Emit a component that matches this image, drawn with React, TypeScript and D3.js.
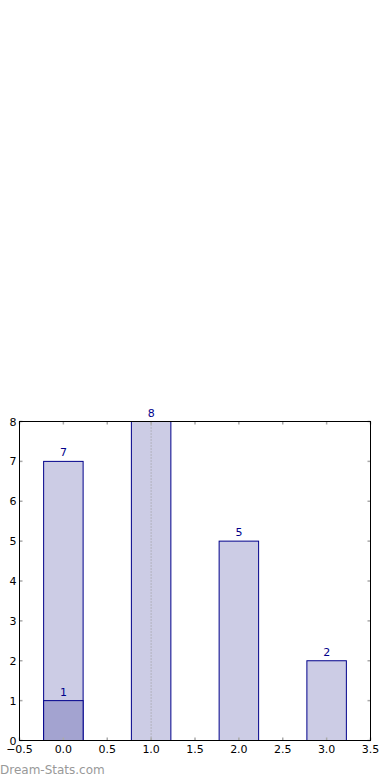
import React from "react";
import * as d3 from "d3";

const categories = [0, 1, 2, 3];
const totals = [7, 8, 5, 2];
const highlight = [1, 0, 0, 0];
const xTicks = [-0.5, 0, 0.5, 1, 1.5, 2, 2.5, 3, 3.5];
const yTicks = [0, 1, 2, 3, 4, 5, 6, 7, 8];
const markerX = 1;

const W = 390, H = 780;
const M = { left: 19.5, right: 370.5, top: 421.5, bottom: 740.5 };
const BAR_W = 0.45;
const NAVY = "#00008b";
const FONT = "DejaVu Sans, sans-serif";

export default function App() {
  const x = d3.scaleLinear().domain([-0.5, 3.5]).range([M.left, M.right]);
  const y = d3.scaleLinear().domain([0, 8]).range([M.bottom, M.top]);
  const fmt = (v: number) => (v < 0 ? "\u2212" + Math.abs(v).toFixed(1) : v.toFixed(1));
  return (
    <svg width={W} height={H} style={{ position: "absolute", left: 0, top: 0 }} fontFamily={FONT}>
      <rect x={0} y={0} width={W} height={H} fill="#fff" />
      {categories.map((c, i) => (
        <g key={c}>
          <rect x={x(c - BAR_W / 2)} y={y(totals[i])} width={x(c + BAR_W / 2) - x(c - BAR_W / 2)}
            height={y(0) - y(totals[i])} fill="#ccccE5" stroke={NAVY} strokeWidth={1} />
          {highlight[i] > 0 && (
            <rect x={x(c - BAR_W / 2)} y={y(highlight[i])} width={x(c + BAR_W / 2) - x(c - BAR_W / 2)}
              height={y(0) - y(highlight[i])} fill="#a3a3d0" stroke={NAVY} strokeWidth={1} />
          )}
          <text x={x(c)} y={y(totals[i]) - 5} textAnchor="middle" fontSize={11} fill={NAVY}>{totals[i]}</text>
          {highlight[i] > 0 && (
            <text x={x(c)} y={y(highlight[i]) - 5} textAnchor="middle" fontSize={11} fill={NAVY}>{highlight[i]}</text>
          )}
        </g>
      ))}
      <line x1={x(markerX)} x2={x(markerX)} y1={M.top} y2={M.bottom} stroke="#999" strokeWidth={1} strokeDasharray="1,2" />
      {xTicks.map((t) => (
        <g key={"x" + t}>
          <line x1={x(t)} x2={x(t)} y1={M.bottom} y2={M.bottom - 3} stroke="#aaa" strokeWidth={1.5} />
          <line x1={x(t)} x2={x(t)} y1={M.top} y2={M.top + 3} stroke="#aaa" strokeWidth={1.5} />
          <text x={x(t)} y={M.bottom + 12} textAnchor="middle" fontSize={11} fill="#000">{fmt(t)}</text>
        </g>
      ))}
      {yTicks.map((t) => (
        <g key={"y" + t}>
          <line x1={M.left} x2={M.left + 3} y1={y(t)} y2={y(t)} stroke="#aaa" strokeWidth={1.5} />
          <line x1={M.right} x2={M.right - 3} y1={y(t)} y2={y(t)} stroke="#aaa" strokeWidth={1.5} />
          <text x={M.left - 3} y={y(t) + 4} textAnchor="end" fontSize={11} fill="#000">{t}</text>
        </g>
      ))}
      <rect x={M.left} y={M.top} width={M.right - M.left} height={M.bottom - M.top} fill="none" stroke="#000" strokeWidth={1} />
      <text x={0} y={774} fontSize={12} fill="#999">Dream-Stats.com</text>
    </svg>
  );
}
